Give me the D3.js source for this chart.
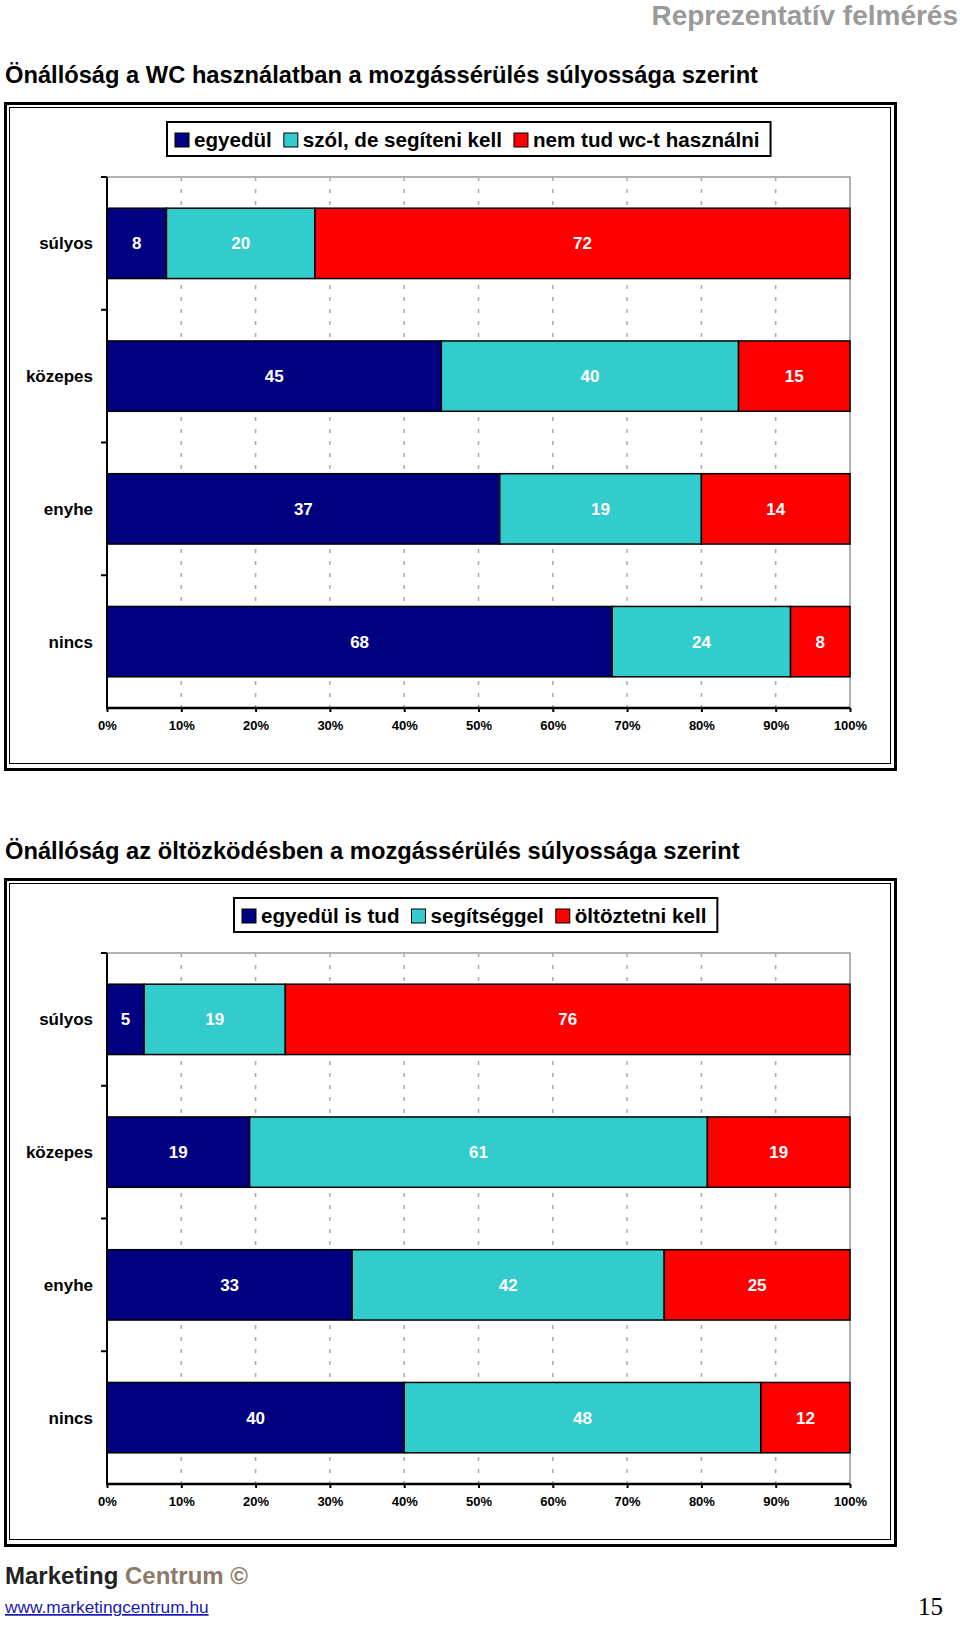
<!DOCTYPE html>
<html>
<head>
<meta charset="utf-8">
<script src="https://cdn.jsdelivr.net/npm/d3@7"></script>
<style>
  html, body { margin: 0; padding: 0; background: #fff; }
  svg { display: block; }
  text { font-family: "Liberation Sans", Arial, sans-serif; }
</style>
</head>
<body>
<script>
// ---- data ----
const categories = ["súlyos", "közepes", "enyhe", "nincs"];
const xTickValues = [0, 0.1, 0.2, 0.3, 0.4, 0.5, 0.6, 0.7, 0.8, 0.9, 1.0];

const wcTitle = "Önállóság a WC használatban a mozgássérülés súlyossága szerint";
const wcSeries = ["egyedül", "szól, de segíteni kell", "nem tud wc-t használni"];
const wcAlone  = [8, 45, 37, 68];
const wcHelp   = [20, 40, 19, 24];
const wcCannot = [72, 15, 14, 8];

const dressTitle = "Önállóság az öltözködésben a mozgássérülés súlyossága szerint";
const dressSeries = ["egyedül is tud", "segítséggel", "öltöztetni kell"];
const dressAlone = [5, 19, 33, 40];
const dressHelp  = [19, 61, 42, 48];
const dressCannot = [76, 19, 25, 12];

const seriesColors = ["#000080", "#33CCCC", "#FF0000"];

// ---- drawing ----
const W = 960, H = 1627;
const svg = d3.select("body").append("svg").attr("width", W).attr("height", H);

svg.append("text").attr("x", 958).attr("y", 25).attr("text-anchor", "end")
  .attr("font-size", 28).attr("font-weight", "bold").attr("fill", "#9a9a9a")
  .text("Reprezentatív felmérés");

function drawChart(oy, title, seriesNames, cols, legendLeft) {
  const g = svg.append("g").attr("transform", `translate(0,${oy})`);
  g.append("text").attr("x", 5).attr("y", 83)
    .attr("font-size", 23.7).attr("font-weight", "bold").attr("fill", "#000")
    .text(title);

  // frame
  g.append("rect").attr("x", 5.5).attr("y", 103.5).attr("width", 890).attr("height", 666)
    .attr("fill", "#fff").attr("stroke", "#000").attr("stroke-width", 3);
  g.append("rect").attr("x", 9.5).attr("y", 107.5).attr("width", 881).attr("height", 656)
    .attr("fill", "none").attr("stroke", "#000").attr("stroke-width", 1);

  const x0 = 107, x1 = 850, y0 = 177, y1 = 708;
  const x = d3.scaleLinear().domain([0, 1]).range([x0, x1]);
  const y = d3.scaleBand().domain(categories).range([y0, y1])
    .paddingInner(0.47).paddingOuter(0.235);

  // plot border (gray)
  g.append("path").attr("d", `M${x0},${y0}H${x1}V${y1}`)
    .attr("fill", "none").attr("stroke", "#999").attr("stroke-width", 1.5);

  // dashed gridlines
  g.append("g").selectAll("line")
    .data(xTickValues.filter(v => v > 0 && v < 1))
    .join("line")
    .attr("x1", d => x(d)).attr("x2", d => x(d))
    .attr("y1", y0).attr("y2", y1)
    .attr("stroke", "#aaa").attr("stroke-width", 1.5).attr("stroke-dasharray", "4,8");

  // stacked bars (100%)
  const rows = categories.map((c, i) => {
    const r = { cat: c };
    seriesNames.forEach((s, j) => r[s] = cols[j][i]);
    return r;
  });
  const stack = d3.stack().keys(seriesNames).offset(d3.stackOffsetExpand);
  const layers = stack(rows);
  const color = d3.scaleOrdinal().domain(seriesNames).range(seriesColors);

  const lg = g.append("g").selectAll("g").data(layers).join("g")
    .attr("fill", d => color(d.key));
  lg.selectAll("rect").data(d => d).join("rect")
    .attr("x", d => x(d[0])).attr("width", d => x(d[1]) - x(d[0]))
    .attr("y", d => y(d.data.cat)).attr("height", y.bandwidth())
    .attr("stroke", "#000").attr("stroke-width", 1.5);

  // value labels
  const labG = g.append("g");
  layers.forEach(layer => {
    labG.selectAll(null).data(layer).join("text")
      .attr("x", d => (x(d[0]) + x(d[1])) / 2)
      .attr("y", d => y(d.data.cat) + y.bandwidth() / 2 + 6)
      .attr("text-anchor", "middle").attr("font-size", 17).attr("font-weight", "bold")
      .attr("fill", "#fff")
      .text(d => d.data[layer.key]);
  });

  // left axis
  const yTicks = [y0].concat(categories.slice(1).map(c => y(c) - y.step() * y.paddingInner() / 2));
  g.append("line").attr("x1", x0).attr("x2", x0).attr("y1", y0).attr("y2", y1 + 1)
    .attr("stroke", "#000").attr("stroke-width", 2);
  g.append("g").selectAll("line").data(yTicks).join("line")
    .attr("x1", x0 - 6).attr("x2", x0).attr("y1", d => d).attr("y2", d => d)
    .attr("stroke", "#000").attr("stroke-width", 2);
  g.append("g").selectAll("text").data(categories).join("text")
    .attr("x", 93).attr("y", d => y(d) + y.bandwidth() / 2 + 6)
    .attr("text-anchor", "end").attr("font-size", 17).attr("font-weight", "bold")
    .attr("fill", "#000").text(d => d);

  // bottom axis
  const ax = g.append("g").attr("transform", `translate(0,${y1})`)
    .call(d3.axisBottom(x).tickValues(xTickValues).tickFormat(d3.format(".0%"))
      .tickSize(4).tickPadding(9));
  ax.select(".domain").attr("stroke", "#000").attr("stroke-width", 2.5)
    .attr("d", `M${x0 - 1},0H${x1}`);
  ax.selectAll(".tick line").attr("stroke", "#000").attr("stroke-width", 2);
  ax.selectAll(".tick text").attr("font-size", 13).attr("font-weight", "bold")
    .attr("fill", "#000").attr("font-family", "'Liberation Sans', Arial, sans-serif");

  // legend
  const leg = g.append("g");
  const legBox = leg.append("rect").attr("y", 122).attr("height", 34)
    .attr("fill", "#fff").attr("stroke", "#000").attr("stroke-width", 2);
  let cx = legendLeft + 8;
  seriesNames.forEach((s, j) => {
    leg.append("rect").attr("x", cx).attr("y", 133).attr("width", 14).attr("height", 14)
      .attr("fill", color(s)).attr("stroke", "#000").attr("stroke-width", 1);
    const t = leg.append("text").attr("x", cx + 19).attr("y", 147)
      .attr("font-size", 20.6).attr("font-weight", "bold").attr("fill", "#000").text(s);
    cx += 19 + t.node().getComputedTextLength() + 12;
  });
  legBox.attr("x", legendLeft).attr("width", cx - legendLeft - 1);
}

drawChart(0, wcTitle, wcSeries, [wcAlone, wcHelp, wcCannot], 167);
drawChart(776, dressTitle, dressSeries, [dressAlone, dressHelp, dressCannot], 234);

// footer
const ft = svg.append("text").attr("x", 5).attr("y", 1584)
  .attr("font-size", 24).attr("font-weight", "bold");
ft.append("tspan").attr("fill", "#222").text("Marketing ");
ft.append("tspan").attr("fill", "#8c7b69").text("Centrum ©");

svg.append("text").attr("x", 5).attr("y", 1613).attr("font-size", 17.3)
  .attr("fill", "#1a1ab0").attr("text-decoration", "underline")
  .text("www.marketingcentrum.hu");

svg.append("text").attr("x", 943).attr("y", 1615).attr("text-anchor", "end")
  .attr("font-size", 25).attr("fill", "#000")
  .style("font-family", "'Liberation Serif', 'Times New Roman', serif")
  .text("15");
</script>
</body>
</html>
